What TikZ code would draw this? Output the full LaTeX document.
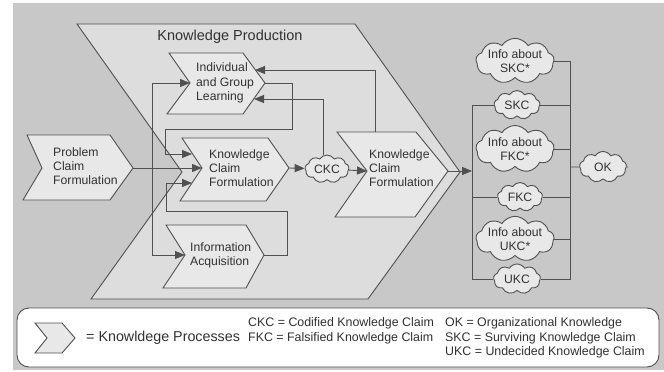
\documentclass[tikz,border=0pt]{standalone}
\usepackage{fontspec}
\setmainfont{Liberation Sans}
\usetikzlibrary{arrows.meta,shapes.symbols}
\definecolor{bg}{RGB}{200,200,200}
\definecolor{kp}{RGB}{221,221,221}
\definecolor{pb}{RGB}{232,232,232}
\definecolor{ln}{RGB}{80,80,80}
\definecolor{tx}{RGB}{50,50,50}
\begin{document}
\begin{tikzpicture}[x=1pt,y=-1pt,
  every node/.style={text=tx, font=\fontsize{12.2}{14.3}\selectfont},
  proc/.style={draw=ln, fill=pb, line width=0.9pt, line join=miter},
  conn/.style={draw=ln, line width=0.9pt},
  arr/.style={conn, -{Triangle[length=10pt,width=8pt]}},
  kcloud/.style={cloud, cloud puffs=9, cloud puff arc=115, cloud ignores aspect, draw=ln, fill=pb, line width=0.9pt, inner sep=0pt, align=center},
  lbl/.style={align=left, inner sep=0pt, anchor=west}]
\fill[white] (0,0) rectangle (664,372);
\fill[bg] (13,3) rectangle (664,370);
\useasboundingbox (0,0) rectangle (664,372);

% big chevron
\draw[conn, fill=kp] (77,24) -- (355,24) -- (460,172) -- (368,299) -- (91,299) -- (182,172) -- cycle;
\node[font=\fontsize{14.5}{17}\selectfont] (kptitle) at (230,37) {Knowledge Production};

% Individual and Group Learning
\draw[proc] (169,53) -- (243,53) -- (265,83) -- (243,114) -- (167,114) -- (190,83) -- cycle;
\coordinate (igl-in) at (190,83);
\coordinate (igl-out) at (265,83);
\coordinate (igl-ur) at (255,70);
\coordinate (igl-lr) at (254,99);
\node[lbl] (igl) at (196,83) {Individual\\and Group\\Learning};

% KCF 1
\draw[proc] (182,138) -- (268,138) -- (289,168) -- (266,201) -- (180,201) -- (202,168) -- cycle;
\coordinate (kcf1-in) at (202,168);
\coordinate (kcf1-out) at (289,168);
\coordinate (kcf1-ul) at (192,154);
\coordinate (kcf1-ll) at (192,183);
\node[lbl] (kcf1) at (209,168) {Knowledge\\Claim\\Formulation};

% KCF 2
\draw[proc] (337,132) -- (416,132) -- (448,171) -- (415,217) -- (335,217) -- (367,171) -- cycle;
\coordinate (kcf2-in) at (367,171);
\coordinate (kcf2-out) at (448,171);
\coordinate (kcf2-top) at (375,132);
\node[lbl] (kcf2) at (369,168) {Knowledge\\Claim\\Formulation};

% Information Acquisition
\draw[proc] (166,225) -- (246,225) -- (264,255) -- (246,288) -- (163,288) -- (185,255) -- cycle;
\coordinate (ia-in) at (185,255);
\coordinate (ia-out) at (264,255);
\node[lbl] (ia) at (190,255) {Information\\Acquisition};

% Problem Claim Formulation
\draw[proc] (27,135) -- (110,135) -- (133,168) -- (110,200) -- (23,200) -- (42,168) -- cycle;
\coordinate (pcf-out) at (133,168);
\node[lbl] (pcf) at (53,166) {Problem\\Claim\\Formulation};

% clouds
\node[kcloud, minimum width=44, minimum height=28] (ckc) at (327,169) {CKC};
\node[kcloud, minimum width=72, minimum height=43] (iskc) at (515,61) {Info about\\SKC*};
\node[kcloud, minimum width=46, minimum height=29] (skc) at (517,105) {SKC};
\node[kcloud, minimum width=72, minimum height=47] (ifkc) at (515,149) {Info about\\FKC*};
\node[kcloud, minimum width=45, minimum height=29] (fkc) at (520,197) {FKC};
\node[kcloud, minimum width=73, minimum height=39] (iukc) at (515,239) {Info about\\UKC*};
\node[kcloud, minimum width=47, minimum height=30] (ukc) at (517,279) {UKC};
\node[kcloud, minimum width=47, minimum height=31] (ok) at (603,167) {OK};

% connectors inside knowledge production
\coordinate (bus1) at (152,83);
\draw[arr] (pcf-out) -- (kcf1-in);
\draw[arr] (bus1) -- (igl-in);
\draw[arr] (bus1) |- (ia-in);
\draw[arr] (igl-out) -- (292,83) -- (292,129) -- (165,129) |- (kcf1-ul);
\draw[arr] (ia-out) -- (287,255) -- (287,211) -- (166,211) |- (kcf1-ll);
\draw[arr] (kcf1-out) -- (ckc);
\draw[arr] (ckc) -- (kcf2-in);
\draw[arr] (ckc.105) |- (igl-lr);
\draw[arr] (kcf2-top) |- (igl-ur);

% output buses
\coordinate (lbus) at (472,171);
\coordinate (rbus) at (570,167);
\draw[arr] (kcf2-out) -- (lbus);
\draw[conn] (skc.west) -- (skc.west -| lbus) -- (ukc.west -| lbus) -- (ukc.west);
\draw[conn] (fkc.west) -- (fkc.west -| lbus);
\draw[conn] (iskc.east) -- (iskc.east -| rbus) -- (ukc.east -| rbus) -- (ukc.east);
\draw[conn] (skc.east) -- (skc.east -| rbus);
\draw[conn] (ifkc.east) -- (ifkc.east -| rbus);
\draw[conn] (fkc.east) -- (fkc.east -| rbus);
\draw[conn] (iukc.east) -- (iukc.east -| rbus);
\draw[conn] (rbus) -- (ok.west);
\coordinate (okend) at (628,167);
\draw[conn] (ok.east) -- (okend);

% legend
\draw[conn, fill=white, rounded corners=12] (17,308) rectangle (659,367);
\draw[proc] (35,323) -- (62,323) -- (75,338) -- (62,353) -- (35,353) -- (47,338) -- cycle;
\node[lbl, font=\fontsize{14.3}{17}\selectfont] (leg1) at (86,338) {= Knowldege Processes};
\node[lbl, font=\fontsize{12.4}{14.7}\selectfont] (leg2) at (248,330.5) {CKC = Codified Knowledge Claim\\FKC = Falsified Knowledge Claim};
\node[lbl, font=\fontsize{12.4}{14.5}\selectfont] (leg3) at (445,338) {OK = Organizational Knowledge\\SKC = Surviving Knowledge Claim\\UKC = Undecided Knowledge Claim};
\end{tikzpicture}
\end{document}
